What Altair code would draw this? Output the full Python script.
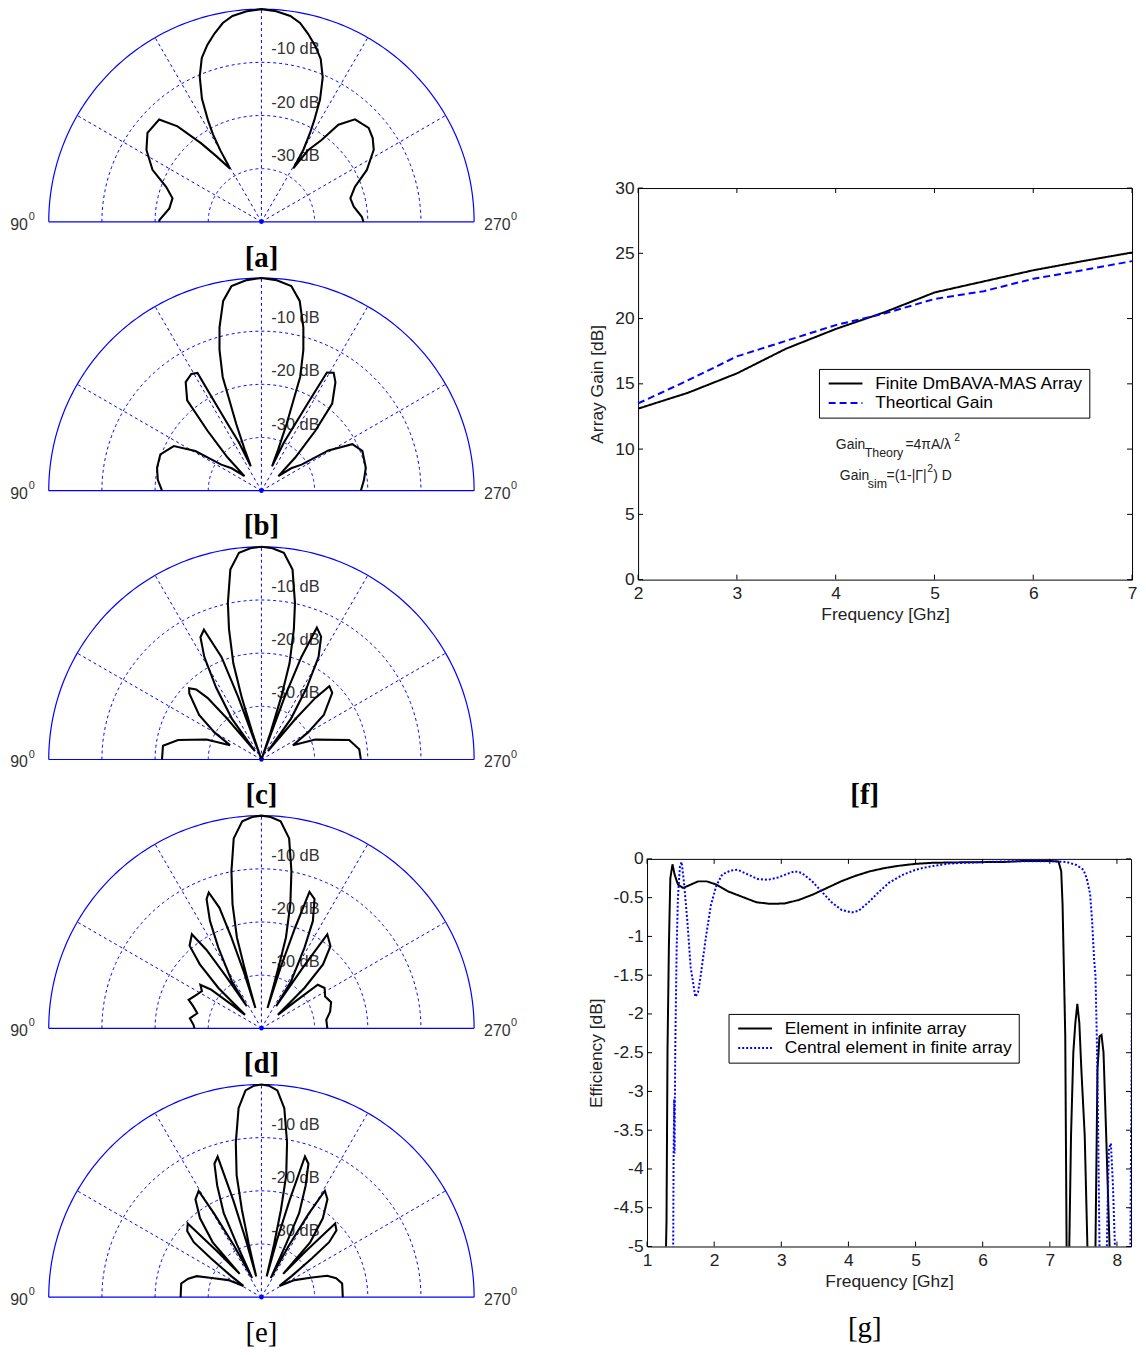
import altair as alt
import pandas as pd

FONT = "Liberation Sans"
SERIF = "Liberation Serif"
BLUE = "#0000ff"
TXT = "#222222"

# ---------------- polar patterns: angle in degrees (negative = 90deg side, positive = 270deg side), level in dB
ANG_A = [-90, -89, -81.7, -75.2, -69.8, -64.5, -58, -52, -45, -41.3, -37.5, -34.5, -30.5, -29.9, -29, -27.8,
         -25.8, -23, -20, -17, -14, -11, -8, -4, 0, 4, 8, 11, 14, 17, 20, 23, 25.6, 27.5, 28.7, 30.2, 30.8,
         33, 36.3, 38.4, 42.4, 48.8, 53, 57.3, 63.8, 69.4, 75.2, 80.7, 87.1, 90]
DB_A = [-20.8, -20.8, -22.5, -22.7, -20.9, -17.3, -14.5, -12.8, -12.8, -16.1, -21.4, -25.0, -28.4, -24.5, -21.2,
        -18.5, -14.3, -10.3, -7.2, -5.2, -3.5, -1.9, -0.9, -0.3, 0.0, -0.3, -0.9, -1.9, -3.6, -5.4, -7.4, -10.5,
        -14.5, -18.5, -21.0, -24.3, -28.3, -24.0, -20.9, -16.7, -13.9, -13.2, -13.8, -14.9, -17.9, -21.2, -22.7,
        -22.4, -21.1, -20.8]

ANG_B = [-90, -84, -77.6, -70.2, -63, -59, -57, -53, -49.3, -45.6, -42, -39.4, -34.9, -31, -28.5, -28, -26.8,
         -25, -23.5, -22.1, -20.7, -19.5, -18.8, -16.6, -14.4, -11.4, -8.3, -4, 0, 4, 8.3, 11.4, 14.4, 16.6,
         18.8, 19.5, 20.7, 22.1, 23.5, 25, 26.8, 28.2, 29, 31.5, 34.3, 39.1, 42, 45.6, 49.3, 53, 57, 59, 62.9,
         68.5, 77.6, 84, 90]
DB_B = [-21.3, -20.4, -19.9, -19.8, -21.5, -25.5, -31, -33, -35.8, -31.1, -24.9, -18.0, -15.1, -14.4, -14.8, -20,
        -26, -30, -35, -31.6, -26.6, -22, -17.4, -12.4, -8.3, -3.6, -1.1, -0.3, 0, -0.3, -1.1, -3.6, -8.3, -12.4,
        -17.4, -22, -26.6, -31.6, -35, -30, -26, -20, -14.6, -14.0, -15.3, -18.9, -24.9, -31.1, -35.8, -33, -31,
        -25.3, -20.8, -19.6, -19.9, -20.6, -21.3]

ANG_C = [-90, -82, -76.8, -70, -65.5, -60, -54.5, -47.5, -45.4, -43, -41.2, -40, -38, -35.9, -32.2, -29.1, -26.5,
         -23.9, -21.3, -20.4, -19.5, -18.6, -17.6, -16.3, -14, -12.1, -9.3, -6.2, -3, 0, 3, 6.2, 9.3, 12.1, 14,
         16.3, 17.6, 18.6, 19.5, 20.4, 21.3, 22.8, 25.9, 29.1, 32.2, 35.9, 38, 40, 41.2, 42.8, 46.7, 54.5, 59.7,
         65.5, 69.7, 77.5, 84, 90]
DB_C = [-21.3, -21.3, -23.9, -29.0, -33.5, -29.8, -25.6, -21.6, -20.9, -22.0, -24.6, -30, -38, -30.5, -24, -17.9,
        -14.3, -13.3, -19.3, -27.6, -40, -34.6, -27.8, -21.2, -14.8, -9.9, -3.8, -0.9, -0.2, 0, -0.2, -0.9,
        -3.8, -9.9, -14.8, -21.2, -27.8, -34.6, -40, -27.6, -19.3, -13.1, -14.3, -17.9, -24, -30.5, -38, -30,
        -24.6, -21.2, -21.7, -25.6, -29.8, -33.5, -29.2, -23.1, -21.5, -21.3]

ANG_D = [-90, -87, -82, -76.8, -72, -68.6, -63, -58, -54.5, -52.5, -51.5, -50.5, -49.2, -46.8, -43.9, -41, -36.5,
         -35, -34.3, -33.5, -32.2, -28.1, -25.6, -23, -21.2, -19.2, -18.3, -17.3, -16.5, -16, -15.6, -15.1, -13.1,
         -10.8, -8.3, -5.3, -2.5, 0, 2.5, 5.3, 8.3, 10.8, 13.1, 15.1, 15.6, 16, 16.7, 17.5, 18.5, 19.4, 22.3,
         25.6, 28.1, 32.2, 33.5, 34.3, 35, 40, 43.9, 46.8, 49.2, 50.5, 51.5, 52.3, 57.4, 63.4, 69.4, 76.3, 82.6, 90]
DB_D = [-27.4, -27.2, -26.4, -27.6, -26.5, -25.3, -26.2, -26.8, -25.9, -28, -33, -36, -35, -28.9, -23.3, -19.4,
        -18.0, -22, -28, -35, -29.6, -22.8, -17.6, -13.6, -12.6, -16, -22, -29, -36, -32, -27.6, -22.3, -16, -9.9,
        -3.9, -0.9, -0.2, 0, -0.2, -0.9, -3.9, -9.9, -16, -22.3, -27.6, -32, -36, -28, -20, -12.8, -13.7, -17.6,
        -22.8, -29.6, -35, -26, -18.4, -19.8, -23.3, -28.9, -35, -36, -32, -26.6, -25.9, -26.6, -26, -26.7,
        -27.7, -27.6]

ANG_E = [-90, -85, -80.3, -75.8, -72, -68.8, -62.7, -58, -55, -52.5, -50.9, -48.3, -45, -44, -43, -41.6, -37.9,
         -34, -30.6, -29.5, -28, -26, -24.9, -24.2, -21.6, -19.4, -17.3, -16.2, -15.2, -14.2, -13.4, -12.6, -11.5,
         -9.4, -6.9, -4.4, -2, 0, 2, 4.4, 6.9, 9.4, 11.5, 12.6, 13.4, 14.2, 15.2, 16.2, 17.2, 19.4, 21.6, 24.2,
         24.9, 26, 28, 29.5, 30.8, 34, 37.9, 41.6, 43, 44, 45, 48.3, 50.9, 52.5, 55, 58, 62.7, 68.8, 72, 75.8,
         80.3, 85, 90]
DB_E = [-24.8, -24.8, -24.7, -25.8, -27.2, -30, -33, -36, -33, -28, -23.6, -21.3, -20.4, -28, -34, -26.2, -21.2,
        -17.8, -16.8, -22, -29, -36, -29, -22.7, -17.4, -13.4, -12.3, -21, -29, -36, -29.7, -23.2, -16.6, -10.5,
        -4.2, -1.0, -0.2, 0, -0.2, -1.0, -4.2, -10.5, -16.6, -23.2, -29.7, -36, -29, -21, -12.3, -13.4, -17.4,
        -22.7, -29, -36, -29, -22, -16.7, -17.8, -21.2, -26.2, -34, -28, -20.4, -21.1, -23.6, -28, -33, -36, -33,
        -29.8, -27, -25.5, -24.6, -24.7, -24.7]

RING_LEVELS = [-10, -20, -30]
RING_TEXT = ["-10 dB", "-20 dB", "-30 dB"]
PANEL_TAGS = ["[a]", "[b]", "[c]", "[d]", "[e]"]
PANEL_BOLD = [True, True, True, True, False]

# ---------------- [f] array gain
F_FREQ = [2, 2.5, 3, 3.5, 4, 4.5, 5, 5.5, 6, 6.5, 7]
F_FINITE = [13.1, 14.3, 15.8, 17.7, 19.2, 20.5, 22.0, 22.85, 23.7, 24.4, 25.06]
F_THEORY = [13.5, 15.25, 17.1, 18.3, 19.5, 20.4, 21.5, 22.1, 23.05, 23.7, 24.4]
F_SERIES = ["Finite DmBAVA-MAS Array", "Theortical Gain"]
F_XTICKS = [2, 3, 4, 5, 6, 7]
F_YTICKS = [0, 5, 10, 15, 20, 25, 30]

# ---------------- [g] efficiency
G_INF_FREQ = [1.26, 1.29, 1.305, 1.326, 1.347, 1.379, 1.41, 1.46, 1.537, 1.63, 1.76, 1.89, 2.03, 2.21, 2.42,
              2.63, 2.84, 3.05, 3.26, 3.47, 3.68, 3.89, 4.1, 4.32, 4.53, 4.74, 5.0, 5.26, 5.79, 6.32, 6.63, 7.0,
              7.13, 7.17, 7.19, 7.21, 7.23, 7.25, 7.26, 7.285, 7.29, 7.316, 7.35, 7.38, 7.41, 7.44, 7.47, 7.52,
              7.56, 7.57, 7.675, 7.68, 7.71, 7.74, 7.77, 7.8, 7.84, 7.89, 7.9]
G_INF_EFF = [-6, -4.68, -2.46, -1.1, -0.25, -0.07, -0.2, -0.33, -0.375, -0.34, -0.29, -0.29, -0.33, -0.42, -0.49,
             -0.56, -0.58, -0.575, -0.53, -0.46, -0.375, -0.29, -0.22, -0.16, -0.12, -0.09, -0.064, -0.05, -0.043,
             -0.04, -0.026, -0.026, -0.034, -0.16, -0.59, -1.44, -2.29, -5, -6, -6, -5, -3.57, -2.5, -2.12, -1.87,
             -2.12, -2.72, -3.57, -5, -6, -6, -5, -2.72, -2.29, -2.27, -2.5, -3.57, -5, -6]
G_FIN_FREQ = [1.385, 1.395, 1.405, 1.41, 1.42, 1.44, 1.46, 1.49, 1.515, 1.55, 1.6, 1.65, 1.72, 1.76, 1.8, 1.87,
              1.95, 2.03, 2.12, 2.25, 2.35, 2.5, 2.65, 2.8, 2.95, 3.1, 3.2, 3.3, 3.45, 3.6, 3.75, 3.9, 4.05, 4.15,
              4.3, 4.45, 4.6, 4.8, 5.0, 5.2, 5.5, 6.0, 6.5, 7.0, 7.25, 7.4, 7.5, 7.55, 7.6, 7.63, 7.66, 7.68, 7.7,
              7.72, 7.74, 7.75, 7.83, 7.86, 7.88, 7.91, 7.94, 7.97, 7.98, 8.19, 8.2, 8.215, 8.225, 8.24]
G_FIN_EFF = [-6, -3.9, -3.1, -3.8, -2.5, -1.2, -0.5, -0.1, -0.04, -0.3, -0.8, -1.4, -1.78, -1.72, -1.5, -1.05,
             -0.6, -0.35, -0.2, -0.15, -0.14, -0.2, -0.26, -0.27, -0.24, -0.19, -0.16, -0.18, -0.28, -0.42, -0.56,
             -0.66, -0.69, -0.67, -0.56, -0.43, -0.31, -0.21, -0.14, -0.1, -0.06, -0.04, -0.03, -0.03, -0.04,
             -0.08, -0.14, -0.25, -0.45, -0.8, -1.3, -1.5, -2.3, -3.5, -5, -6, -6, -4.5, -3.74, -3.67, -4.2, -5, -6,
             -6, -5, -3, -1.6, -1.0]
G_SERIES = ["Element in infinite array", "Central element in finite array"]
G_XTICKS = [1, 2, 3, 4, 5, 6, 7, 8]
G_YTICKS = [0, -0.5, -1, -1.5, -2, -2.5, -3, -3.5, -4, -4.5, -5]

ONE = pd.DataFrame({"k": [0]})

# ---------------- polar panels
PW, PH = 428, 214
SX = alt.Scale(domain=[-1, 1], nice=False, zero=False)
SY = alt.Scale(domain=[0, 1], nice=False, zero=False)
PX = alt.X("px:Q", scale=SX, axis=None)
PY = alt.Y("py:Q", scale=SY, axis=None)
POLAR_XY = dict(px="datum.rr*sin(datum.ang*PI/180)", py="datum.rr*cos(datum.ang*PI/180)")


def polar_panel(ang, db, tag, bold):
    rings = (alt.Chart(alt.sequence(-90, 90.5, 1, as_="ang"))
             .transform_calculate(rr="[0.25, 0.5, 0.75]")
             .transform_flatten(["rr"])
             .transform_calculate(**POLAR_XY)
             .mark_line(color=BLUE, strokeWidth=1, strokeDash=[3, 3])
             .encode(x=PX, y=PY, detail="rr:N", order="ang:Q"))
    outer = (alt.Chart(alt.sequence(-90, 90.5, 1, as_="ang"))
             .transform_calculate(rr="1")
             .transform_calculate(**POLAR_XY)
             .mark_line(color=BLUE, strokeWidth=1.2)
             .encode(x=PX, y=PY, order="ang:Q"))
    spokes = (alt.Chart(alt.sequence(-60, 61, 30, as_="ang"))
              .transform_calculate(rr="[0, 1]")
              .transform_flatten(["rr"])
              .transform_calculate(**POLAR_XY)
              .mark_line(color=BLUE, strokeWidth=1, strokeDash=[3, 3])
              .encode(x=PX, y=PY, detail="ang:N", order="rr:Q"))
    base = alt.Chart(ONE).mark_rule(color=BLUE, strokeWidth=1.2).encode(y=alt.YDatum(0, axis=None, scale=SY))
    dot = alt.Chart(ONE).mark_circle(color=BLUE, size=20, opacity=1).encode(
        x=alt.XDatum(0, axis=None, scale=SX), y=alt.YDatum(0, axis=None, scale=SY))
    rlab = (alt.Chart(pd.DataFrame({"lvl": RING_LEVELS, "txt": RING_TEXT}))
            .transform_calculate(py="(datum.lvl + 40) / 40", px="0")
            .mark_text(align="left", baseline="middle", dx=10, dy=-13, fontSize=16.5, font=FONT, color="#333333")
            .encode(x=PX, y=PY, text="txt:N"))
    patt = (alt.Chart(pd.DataFrame({"ang": ang, "db": db}))
            .transform_calculate(rr="max(0, (datum.db + 40) / 40)")
            .transform_calculate(**POLAR_XY)
            .mark_line(color="black", strokeWidth=2.1)
            .encode(x=PX, y=PY, order="ang:Q"))
    lx = alt.XDatum(-1, axis=None, scale=SX)
    rx = alt.XDatum(1, axis=None, scale=SX)
    y0 = alt.YDatum(0, axis=None, scale=SY)
    side = dict(font=FONT, color="#333333", baseline="middle")
    t90 = alt.Chart(ONE).mark_text(align="right", dx=-21, dy=3, fontSize=16, **side).encode(
        x=lx, y=y0, text=alt.value("90"))
    t90s = alt.Chart(ONE).mark_text(align="left", dx=-20, dy=-5, fontSize=11, **side).encode(
        x=lx, y=y0, text=alt.value("0"))
    t270 = alt.Chart(ONE).mark_text(align="left", dx=10, dy=3, fontSize=16, **side).encode(
        x=rx, y=y0, text=alt.value("270"))
    t270s = alt.Chart(ONE).mark_text(align="left", dx=37, dy=-5, fontSize=11, **side).encode(
        x=rx, y=y0, text=alt.value("0"))
    ttag = alt.Chart(ONE).mark_text(align="center", baseline="middle", font=SERIF, fontSize=29,
                                    fontWeight="bold" if bold else "normal", color="black").encode(
        x=alt.value(PW / 2), y=alt.value(PH + 36), text=alt.value(tag))
    return alt.layer(rings, outer, spokes, base, dot, rlab, patt, t90, t90s, t270, t270s, ttag).properties(
        width=PW, height=PH)


panels = [polar_panel(a, d, t, b) for a, d, t, b in zip(
    [ANG_A, ANG_B, ANG_C, ANG_D, ANG_E], [DB_A, DB_B, DB_C, DB_D, DB_E], PANEL_TAGS, PANEL_BOLD)]

# ---------------- common axis style
AX = dict(grid=False, ticks=False, domain=False, labelFont=FONT, labelFontSize=17.5, labelColor=TXT,
          titleFont=FONT, titleFontSize=17.5, titleFontWeight="normal", titleColor=TXT, labelFlush=False,
          labelOverlap=False)
TL = 5


def tick_layers(xticks, yticks, X, Y, xname, yname, W, H):
    xt = pd.DataFrame({xname: xticks})
    yt = pd.DataFrame({yname: yticks})
    return [
        alt.Chart(xt).mark_rule(color="black").encode(x=X, y=alt.value(0), y2=alt.value(TL)),
        alt.Chart(xt).mark_rule(color="black").encode(x=X, y=alt.value(H), y2=alt.value(H - TL)),
        alt.Chart(yt).mark_rule(color="black").encode(y=Y, x=alt.value(0), x2=alt.value(TL)),
        alt.Chart(yt).mark_rule(color="black").encode(y=Y, x=alt.value(W), x2=alt.value(W - TL)),
    ]


def make_legend(lx, ly):
    return alt.Legend(title=None, orient="none", legendX=lx, legendY=ly, direction="vertical",
                      strokeColor="black", fillColor="white", padding=6, cornerRadius=0,
                      symbolType="M-1,0H5.8", symbolSize=100, symbolStrokeWidth=2,
                      symbolFillColor="transparent", labelOffset=33, labelFont=FONT, labelFontSize=17.5,
                      labelColor="black", rowPadding=0.5, labelLimit=500)


# ---------------- [f]
FW, FH = 497, 394
FX = alt.X("freq:Q", scale=alt.Scale(domain=[2, 7], nice=False, zero=False),
           axis=alt.Axis(values=F_XTICKS, title="Frequency [Ghz]", labelPadding=5, titlePadding=4, **AX))
FY = alt.Y("gain:Q", scale=alt.Scale(domain=[0, 30], nice=False, zero=False),
           axis=alt.Axis(values=F_YTICKS, title="Array Gain [dB]", labelPadding=4, titlePadding=8, **AX))
fdf = pd.DataFrame({"freq": F_FREQ + F_FREQ, "gain": F_FINITE + F_THEORY,
                    "fseries": [F_SERIES[0]] * len(F_FREQ) + [F_SERIES[1]] * len(F_FREQ)})
leg_f = make_legend(182, 182)
flines = alt.Chart(fdf).mark_line(strokeWidth=2).encode(
    x=FX, y=FY,
    color=alt.Color("fseries:N", scale=alt.Scale(domain=F_SERIES, range=["black", "blue"]), legend=leg_f),
    strokeDash=alt.StrokeDash("fseries:N", scale=alt.Scale(domain=F_SERIES, range=[[1, 0], [7, 4]]),
                              legend=leg_f))


def note(txt, x, y, size=14):
    return alt.Chart(ONE).mark_text(align="left", baseline="middle", font=FONT, fontSize=size, color=TXT).encode(
        x=alt.value(x), y=alt.value(y), text=alt.value(txt))


fnotes = [
    note("Gain", 199, 259), note("Theory", 228, 267, 12.5), note("=4\u03c0A/\u03bb", 269, 259),
    note("2", 318, 252, 10.5),
    note("Gain", 203, 290), note("sim", 231, 298, 12.5), note("=(1-|\u0393|", 250, 290), note("2", 291, 283, 10.5),
    note(") D", 297, 290),
]
ftag = alt.Chart(ONE).mark_text(align="center", baseline="middle", font=SERIF, fontSize=29, fontWeight="bold",
                                color="black").encode(x=alt.value(228), y=alt.value(611), text=alt.value("[f]"))
fchart = alt.layer(*tick_layers(F_XTICKS, F_YTICKS, FX, FY, "freq", "gain", FW, FH), flines, *fnotes,
                   ftag).properties(width=FW, height=FH, view=alt.ViewBackground(stroke="black", strokeWidth=1))

# ---------------- [g]
GW, GH = 487, 390
GX = alt.X("freq:Q", scale=alt.Scale(domain=[1, 8.21], nice=False, zero=False),
           axis=alt.Axis(values=G_XTICKS, title="Frequency [Ghz]", labelPadding=5, titlePadding=4, **AX))
GY = alt.Y("eff:Q", scale=alt.Scale(domain=[-5, 0], nice=False, zero=False),
           axis=alt.Axis(values=G_YTICKS, title="Efficiency [dB]", labelPadding=4, titlePadding=8,
                         labelExpr="replace(format(datum.value, '~g'), '\u2212', '-')", **AX))
gdf = pd.DataFrame({"freq": G_INF_FREQ + G_FIN_FREQ, "eff": G_INF_EFF + G_FIN_EFF,
                    "gseries": [G_SERIES[0]] * len(G_INF_FREQ) + [G_SERIES[1]] * len(G_FIN_FREQ)})
leg_g = make_legend(82, 156)
glines = alt.Chart(gdf).mark_line(strokeWidth=2, clip=True).encode(
    x=GX, y=GY,
    color=alt.Color("gseries:N", scale=alt.Scale(domain=G_SERIES, range=["black", "blue"]), legend=leg_g),
    strokeDash=alt.StrokeDash("gseries:N", scale=alt.Scale(domain=G_SERIES, range=[[1, 0], [2, 2]]),
                              legend=leg_g))
gtag = alt.Chart(ONE).mark_text(align="center", baseline="middle", font=SERIF, fontSize=29, fontWeight="normal",
                                color="black").encode(x=alt.value(219), y=alt.value(472), text=alt.value("[g]"))
gchart = alt.layer(*tick_layers(G_XTICKS, G_YTICKS, GX, GY, "freq", "eff", GW, GH), glines, gtag).properties(
    width=GW, height=GH, view=alt.ViewBackground(stroke="black", strokeWidth=1))


def spacer(w, h):
    return alt.Chart(ONE).mark_point(opacity=0, size=0).encode(
        x=alt.value(w / 2), y=alt.value(h / 2)).properties(width=w, height=h)


INDEP = dict(color="independent", strokeDash="independent")
left = alt.vconcat(*panels, spacing=56.5, bounds="flush")
grow = alt.hconcat(spacer(1, GH), gchart, spacing=8, bounds="flush").resolve_scale(**INDEP)
right = alt.vconcat(spacer(1, 180), fchart, spacer(1, 281), grow, spacing=0, bounds="flush").resolve_scale(**INDEP)
# the nested left column reports no width in a flush layout, so the gap spans the panel width as well
chart = (alt.hconcat(left, right, spacing=593, bounds="flush")
         .resolve_scale(**INDEP)
         .properties(padding={"left": 2, "top": -8, "right": 0, "bottom": 0})
         .configure_view(stroke=None))
chart.save("out.html", embed_options={"renderer": "svg", "actions": False})
